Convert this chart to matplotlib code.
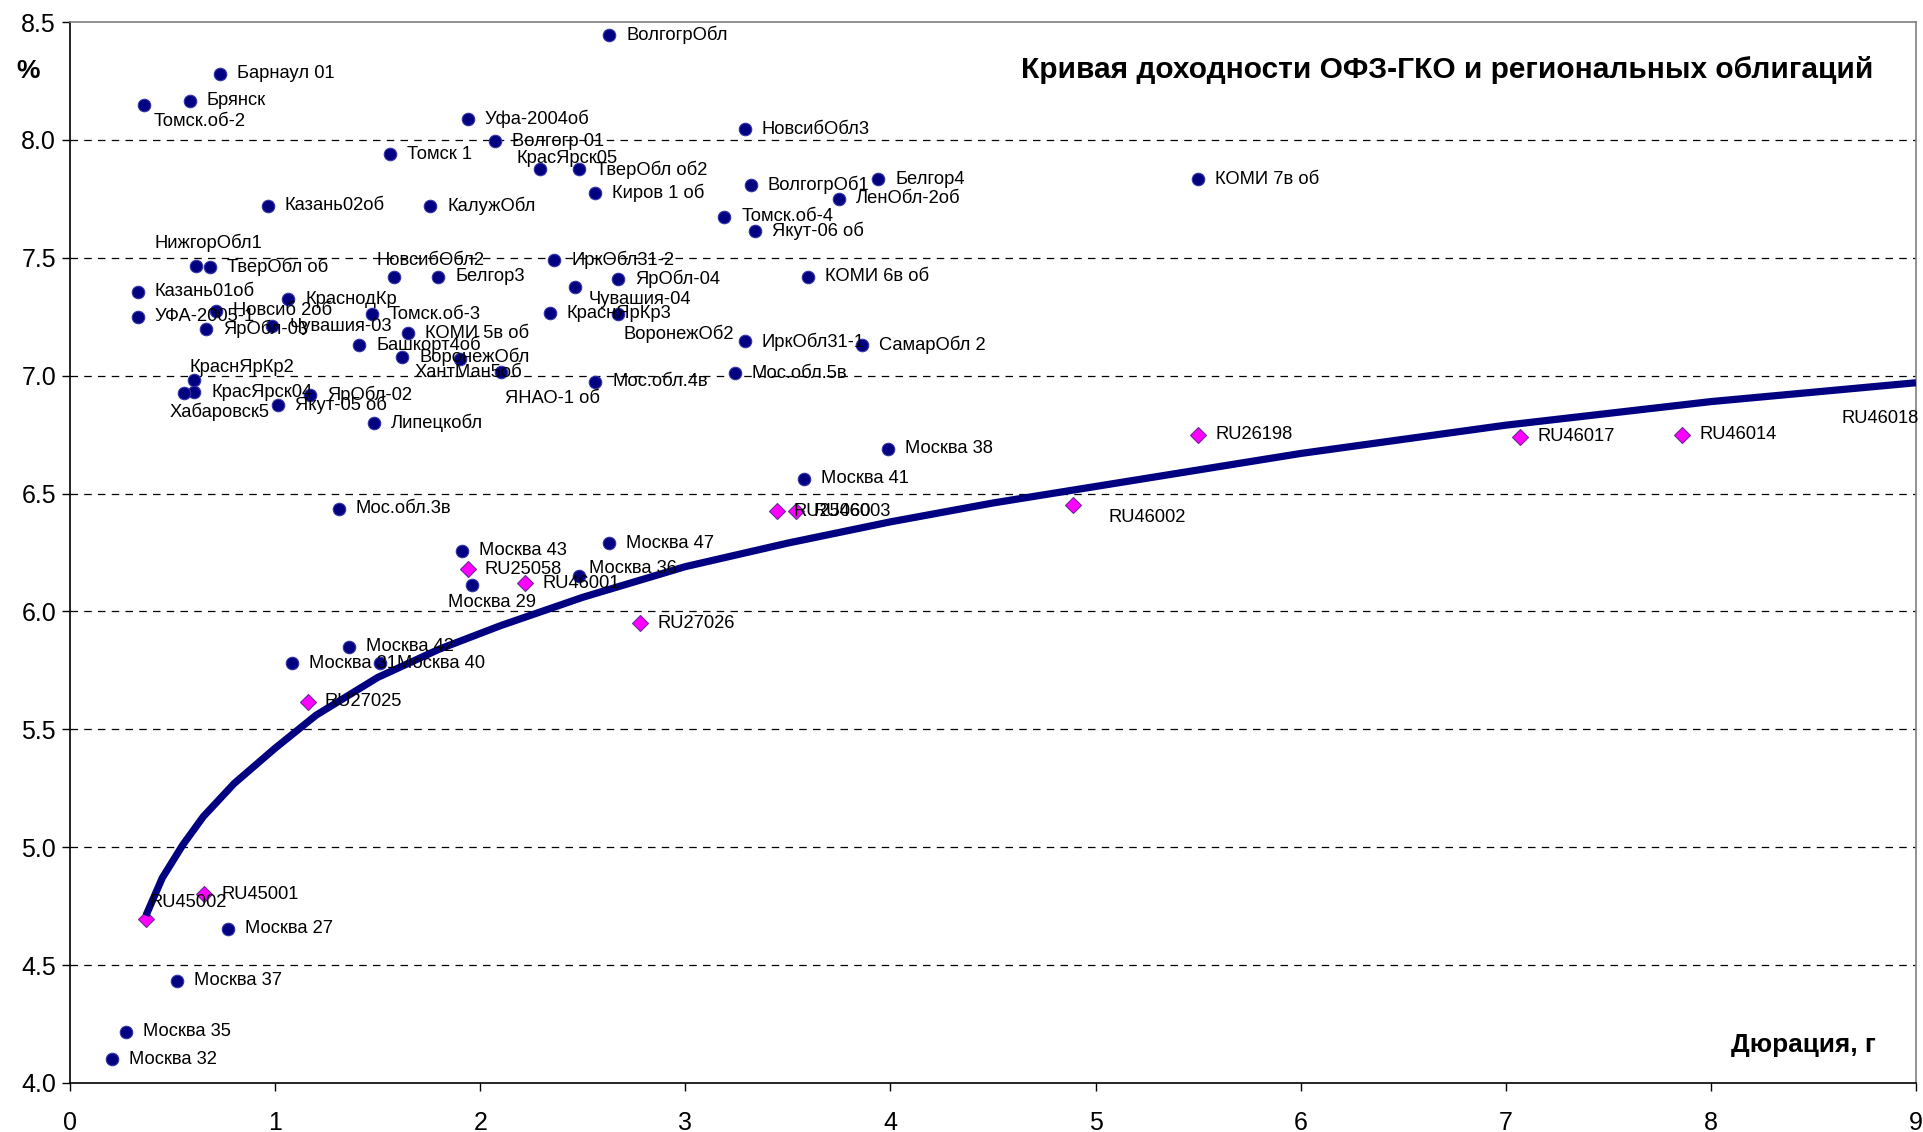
import matplotlib
matplotlib.use("Agg")
import matplotlib.pyplot as plt
from matplotlib import font_manager

names = {f.name for f in font_manager.fontManager.ttflist}
base_font = "Liberation Sans" if "Liberation Sans" in names else "DejaVu Sans"
plt.rcParams["font.family"] = [base_font, "DejaVu Sans"]

# regional / municipal bonds: duration (years), yield (%)
reg_names = ["ВолгогрОбл", "Барнаул 01", "Брянск", "Томск.об-2", "Уфа-2004об", "Волгогр 01",
             "НовсибОбл3", "Томск 1", "КрасЯрск05", "ТверОбл об2", "Белгор4", "КОМИ 7в об",
             "ВолгогрОб1", "Киров 1 об", "ЛенОбл-2об", "Казань02об", "КалужОбл", "Томск.об-4",
             "Якут-06 об", "НижгорОбл1", "ТверОбл об", "НовсибОбл2", "Белгор3", "ИркОбл31-2",
             "ЯрОбл-04", "Чувашия-04", "КОМИ 6в об", "Казань01об", "КраснодКр", "УФА-2005-1",
             "Новсиб 2об", "ЯрОбл-03", "Чувашия-03", "Томск.об-3", "КОМИ 5в об", "Башкорт4об",
             "ВоронежОбл", "ХантМан5об", "ЯНАО-1 об", "Мос.обл.4в", "Мос.обл.5в", "ИркОбл31-1",
             "СамарОбл 2", "КраснЯрКр3", "ВоронежОб2", "Липецкобл", "ЯрОбл-02", "Якут-05 об",
             "КраснЯрКр2", "КрасЯрск04", "Хабаровск5", "Мос.обл.3в", "Москва 38", "Москва 41",
             "Москва 43", "Москва 29", "Москва 36", "Москва 47", "Москва 42", "Москва 31",
             "Москва 40", "Москва 27", "Москва 37", "Москва 35", "Москва 32"]
reg_dur = [2.63, 0.73, 0.585, 0.36, 1.94, 2.07,
           3.29, 1.56, 2.29, 2.48, 3.94, 5.50,
           3.32, 2.56, 3.75, 0.965, 1.756, 3.19,
           3.34, 0.615, 0.683, 1.58, 1.795, 2.36,
           2.67, 2.46, 3.60, 0.33, 1.063, 0.33,
           0.712, 0.665, 0.987, 1.47, 1.65, 1.41,
           1.62, 1.90, 2.10, 2.56, 3.24, 3.29,
           3.86, 2.34, 2.67, 1.48, 1.17, 1.015,
           0.605, 0.605, 0.556, 1.31, 3.99, 3.58,
           1.91, 1.96, 2.48, 2.63, 1.36, 1.08,
           1.51, 0.77, 0.52, 0.275, 0.205]
reg_yld = [8.445, 8.28, 8.165, 8.15, 8.09, 7.995,
           8.046, 7.94, 7.875, 7.875, 7.834, 7.834,
           7.81, 7.775, 7.75, 7.72, 7.72, 7.673,
           7.614, 7.465, 7.46, 7.42, 7.42, 7.49,
           7.41, 7.375, 7.42, 7.355, 7.325, 7.25,
           7.275, 7.20, 7.21, 7.26, 7.18, 7.13,
           7.08, 7.07, 7.015, 6.975, 7.01, 7.145,
           7.13, 7.265, 7.26, 6.80, 6.92, 6.876,
           6.98, 6.93, 6.926, 6.435, 6.69, 6.562,
           6.257, 6.112, 6.15, 6.29, 5.85, 5.78,
           5.78, 4.654, 4.433, 4.217, 4.10]

# OFZ / GKO
ofz_names = ["RU45002", "RU45001", "RU27025", "RU25058", "RU46001", "RU27026", "RU25060",
             "RU46003", "RU46002", "RU26198", "RU46017", "RU46014", "RU46018"]
ofz_dur = [0.37, 0.655, 1.16, 1.94, 2.22, 2.78, 3.445, 3.54, 4.89, 5.50, 7.07, 7.86, 9.05]
ofz_yld = [4.696, 4.80, 5.616, 6.18, 6.12, 5.95, 6.426, 6.426, 6.452, 6.75, 6.74, 6.75, 6.96]

# fitted OFZ curve
curve_dur = [0.37, 0.45, 0.55, 0.65, 0.8, 1.0, 1.2, 1.5, 1.8, 2.1, 2.5, 3.0,
             3.5, 4.0, 4.5, 5.0, 5.5, 6.0, 6.5, 7.0, 7.5, 8.0, 8.5, 9.0]
curve_yld = [4.71, 4.87, 5.01, 5.13, 5.27, 5.42, 5.56, 5.72, 5.84, 5.94, 6.06, 6.19,
             6.29, 6.38, 6.46, 6.53, 6.60, 6.67, 6.73, 6.79, 6.84, 6.89, 6.93, 6.97]

# label placement, pixels from the marker (default: to the right)
label_pos = {
    "Томск.об-2": (10, -17, "left"),
    "КрасЯрск05": (-23, 11, "left"),
    "НижгорОбл1": (-42, 23, "left"),
    "НовсибОбл2": (-18, 16, "left"),
    "Чувашия-04": (14, -12, "left"),
    "ВоронежОб2": (6, -19, "left"),
    "КраснЯрКр2": (-5, 13, "left"),
    "Хабаровск5": (-14, -19, "left"),
    "ХантМан5об": (-45, -13, "left"),
    "ЯНАО-1 об": (4, -26, "left"),
    "Москва 29": (-24, -17, "left"),
    "Москва 36": (10, 8, "left"),
    "RU45002": (4, 16, "left"),
    "RU46002": (36, -13, "left"),
    "RU46018": (-8, -33, "right"),
}

W, H = 1923, 1132
fig = plt.figure(figsize=(W / 100, H / 100), dpi=100)
x0, x1, y0, y1 = 70, 1916, 22, 1083
ax = fig.add_axes([x0 / W, 1 - y1 / H, (x1 - x0) / W, (y1 - y0) / H])

navy = "#000080"
ax.plot(reg_dur, reg_yld, "o", ms=9, color=navy, mec="#3434a8", mew=0.8, zorder=3)
ax.plot(ofz_dur, ofz_yld, "D", ms=8.5, color="#ff00ff", mec="#6a2a9a", mew=0.8, zorder=3)
ax.plot(curve_dur, curve_yld, "-", lw=5.2, color=navy, solid_capstyle="butt", zorder=4)

for names_, xs, ys in [(reg_names, reg_dur, reg_yld), (ofz_names, ofz_dur, ofz_yld)]:
    for name, xv, yv in zip(names_, xs, ys):
        dx, dy, ha = label_pos.get(name, (17, 0, "left"))
        ax.annotate(name, (xv, yv), xytext=(dx, dy), textcoords="offset pixels",
                    ha=ha, va="center", fontsize=13.2, color="black", zorder=5,
                    annotation_clip=False)

ax.set_xlim(0, 9)
ax.set_ylim(4.0, 8.5)
ax.set_xticks(range(10))
ax.set_yticks([4.0 + 0.5 * i for i in range(10)])
ax.set_yticklabels([f"{4.0 + 0.5 * i:.1f}" for i in range(10)])
ax.tick_params(labelsize=18, length=6, width=1, direction="out", color="black", pad=4)
ax.tick_params(axis="x", pad=14)

for v in [4.5, 5.0, 5.5, 6.0, 6.5, 7.0, 7.5, 8.0]:
    ax.axhline(v, color="black", lw=0.9, ls=(0, (6, 5)), zorder=1)

ax.spines["left"].set_color("black")
ax.spines["bottom"].set_color("black")
ax.spines["left"].set_linewidth(1.2)
ax.spines["bottom"].set_linewidth(1.2)
ax.spines["top"].set_color("#808080")
ax.spines["right"].set_color("#808080")
ax.spines["top"].set_linewidth(1.2)
ax.spines["right"].set_linewidth(1.2)

ax.text(0.977, 0.955, "Кривая доходности ОФЗ-ГКО и региональных облигаций",
        transform=ax.transAxes, ha="right", va="center", fontsize=21.5, fontweight="bold")
ax.text(0.978, 0.036, "Дюрация, г", transform=ax.transAxes, ha="right", va="center",
        fontsize=18.8, fontweight="bold")
fig.text(28 / W, 1 - 71 / H, "%", ha="center", va="center", fontsize=19, fontweight="bold")

fig.savefig("out.png", dpi=100)
